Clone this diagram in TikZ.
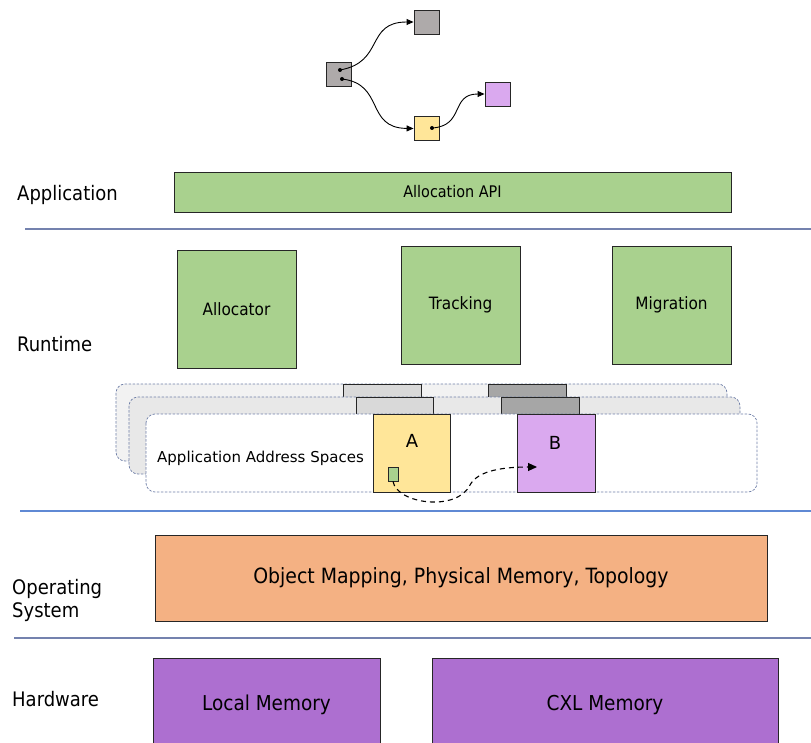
\documentclass[tikz,border=0pt]{standalone}
\usepackage{fontspec}
\setmainfont{DejaVu Sans}
\newfontfamily\condfont{DejaVu Sans Condensed}
\usetikzlibrary{arrows.meta}
\definecolor{appgreen}{HTML}{A9D18E}
\definecolor{osorange}{HTML}{F4B183}
\definecolor{hwpurple}{HTML}{AD6FD0}
\definecolor{objyellow}{HTML}{FFE699}
\definecolor{objpurple}{HTML}{DAA9EF}
\definecolor{objgray}{HTML}{AEAAAA}
\definecolor{pagelight}{HTML}{D9D9D9}
\definecolor{pagedark}{HTML}{A6A6A6}
\definecolor{spaceedge}{HTML}{6F7FA8}
\definecolor{layerline}{HTML}{7482AE}
\definecolor{layerblue}{HTML}{5F89D4}
\tikzset{
  block/.style={draw=black!85, line width=0.9pt, inner sep=0pt},
  layerlabel/.style={anchor=west, font=\condfont\fontsize{20}{24}\selectfont, inner sep=0pt},
  spacebox/.style={draw=spaceedge, dashed, dash pattern=on 2.5pt off 1.5pt, line width=0.7pt, rounded corners=9pt},
  page/.style={draw=black!85, line width=0.9pt},
  ptr/.style={line width=0.9pt, -{Triangle[length=7pt,width=6pt]}},
  ptrdot/.style={fill=black, draw=none},
  sep/.style={line width=1.6pt}
}
\begin{document}
\begin{tikzpicture}[x=1pt,y=-1pt]
\useasboundingbox (0,0) rectangle (811,743);

% ---- object graph at the top
\node[block, fill=objgray, minimum width=25pt, minimum height=24pt] (root) at (338.5,74) {};
\node[block, fill=objgray, minimum width=25pt, minimum height=24pt] (child1) at (426.5,22) {};
\node[block, fill=objyellow, minimum width=25pt, minimum height=24pt] (child2) at (426.5,128.5) {};
\node[block, fill=objpurple, minimum width=25pt, minimum height=24pt] (leaf) at (497.5,94) {};
\coordinate (p1) at (340,70);
\coordinate (p2) at (342,79);
\coordinate (p3) at (432,128);
\foreach \c in {p1,p2,p3} \fill[ptrdot] (\c) circle (2pt);
\draw[ptr] (p1) .. controls (385,62) and (365,22) .. (child1.west);
\draw[ptr] (p2) .. controls (385,84) and (365,128) .. (child2.west);
\draw[ptr] (p3) .. controls (465,126) and (450,94) .. (leaf.west);

% ---- application layer
\node[layerlabel] (lapp) at (17,195) {Application};
\node[block, fill=appgreen, minimum width=557pt, minimum height=40pt,
      font=\condfont\fontsize{16}{19}\selectfont] (api) at (452.5,192) {\raisebox{-1.5pt}{Allocation API}};
\draw[sep, layerline] (25,229) -- (811,229);

% ---- runtime layer
\node[layerlabel] (lrt) at (17,344) {Runtime};
\tikzset{rtbox/.style={block, fill=appgreen, minimum width=119pt, minimum height=118pt,
      font=\condfont\fontsize{17}{20}\selectfont}}
\node[rtbox] (alloc) at (236.5,309) {\raisebox{-1.5pt}{Allocator}};
\node[rtbox] (track) at (460.5,305) {\raisebox{-1.5pt}{Tracking}};
\node[rtbox] (migr) at (671.5,305) {\raisebox{-1.5pt}{Migration}};

% stacked address spaces
\draw[spacebox, fill=black!5] (116,384) rectangle (727,461);
\draw[page, fill=pagelight] (343,384) rectangle (421,414);
\draw[page, fill=pagedark] (488,384) rectangle (566,414);
\draw[spacebox, fill=black!9] (129,397) rectangle (740,474);
\draw[page, fill=pagelight] (356,397) rectangle (433,414);
\draw[page, fill=pagedark] (501,397) rectangle (579,414);
\draw[spacebox, fill=white] (146,414) rectangle (757,492);
\node[anchor=west, inner sep=0pt, font=\fontsize{15}{18}\selectfont] (aas) at (157,458) {Application Address Spaces};
\node[block, fill=objyellow, minimum width=77pt, minimum height=78pt] (pa) at (411.5,453) {};
\node[font=\fontsize{18}{21}\selectfont] (la) at (412,441) {A};
\node[block, fill=objpurple, minimum width=78pt, minimum height=78pt] (pb) at (556,453) {};
\node[font=\fontsize{18}{21}\selectfont] (lb) at (555,443) {B};
\node[block, line width=0.8pt, fill=appgreen, minimum width=10pt, minimum height=14pt] (obj) at (393,474) {};
\coordinate (tgt) at (537,467);
\draw[line width=1.1pt, dashed, dash pattern=on 5pt off 4pt, -{Triangle[length=9pt,width=8pt]}]
  (obj.south) .. controls (397,504) and (457,512) .. (470,485)
  .. controls (478,470) and (505,467) .. (tgt);
\draw[sep, layerblue] (20,511) -- (811,511);

% ---- operating system layer
\node[anchor=west, inner sep=0pt, align=left, font=\condfont\fontsize{20}{23}\selectfont] (los) at (12,600) {Operating\\System};
\node[block, fill=osorange, minimum width=612pt, minimum height=86pt,
      font=\condfont\fontsize{21}{25}\selectfont] (osbox) at (461,578) {\raisebox{-2pt}{Object Mapping, Physical Memory, Topology}};
\draw[sep, layerline] (14,638) -- (811,638);

% ---- hardware layer
\node[layerlabel] (lhw) at (12,699) {Hardware};
\draw[block, fill=hwpurple] (153,749) |- (380,658) -- (380,749);
\draw[block, fill=hwpurple] (432,749) |- (778,658) -- (778,749);
\node[font=\condfont\fontsize{20.5}{24}\selectfont] (lm) at (266.5,705) {Local Memory};
\node[font=\condfont\fontsize{20.5}{24}\selectfont] (cxl) at (605,705) {CXL Memory};
\end{tikzpicture}
\end{document}
